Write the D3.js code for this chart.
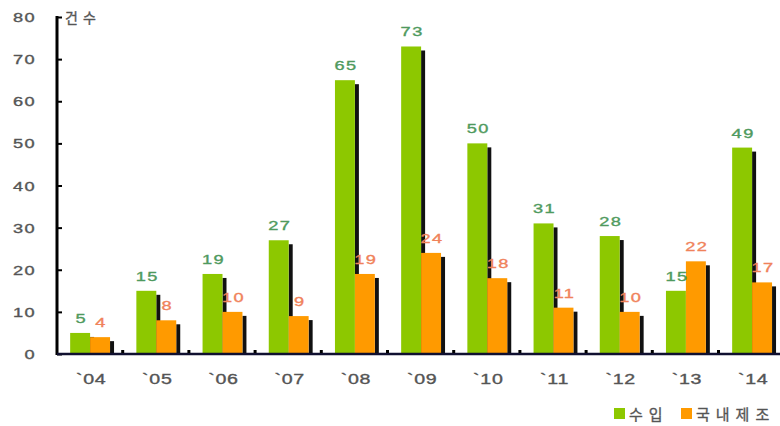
<!DOCTYPE html>
<html><head><meta charset="utf-8">
<script src="https://cdn.jsdelivr.net/npm/d3@7"></script>
<style>
html,body{margin:0;padding:0;background:#fff;}
svg{display:block;}
text{font-family:"Liberation Sans","Noto Sans CJK KR",sans-serif;stroke-width:0.35px;}
</style></head>
<body>
<svg id="c" width="780" height="426"></svg>
<script>
const categories = ["`04","`05","`06","`07","`08","`09","`10","`11","`12","`13","`14"];
const seriesNames = ["수입","국내제조"];
const importVals = [5,15,19,27,65,73,50,31,28,15,49];
const domesticVals = [4,8,10,9,19,24,18,11,10,22,17];
const yTicks = [0,10,20,30,40,50,60,70,80];
const yUnit = "건수";
const colors = ["#8dc800","#ff9a00"];
const labelColors = ["#4f9a5e","#f0825a"];

const svg = d3.select("#c");
const x0 = 57, yBase = 354;
const SX = 1.4;
const x = d3.scaleBand().domain(categories).range([x0, x0 + 11*66.2]).padding(0);
const xs = d3.scaleBand().domain(seriesNames).range([0, x.bandwidth()]).paddingInner(0).paddingOuter(0.66);
const y = d3.scaleLinear().domain([0,80]).range([yBase, 17]);
const series = [importVals, domesticVals];

function stretched(sel, fx, fy){
  sel.attr("x",0).attr("y",0)
     .attr("transform",(d,i)=>`translate(${fx(d,i)},${fy(d,i)}) scale(${SX},1)`);
  return sel;
}

// bars with shadows
categories.forEach((c,i)=>{
  const g = svg.append("g");
  series.forEach((vals,s)=>{
    const bx = x(c)+xs(seriesNames[s]);
    const bw = xs.bandwidth();
    g.append("rect").attr("x", bx+bw).attr("y", y(vals[i])+4)
      .attr("width",4).attr("height", yBase - y(vals[i]) - 4).attr("fill","#111");
    g.append("rect").attr("x", bx).attr("y", y(vals[i]))
      .attr("width",bw).attr("height", yBase - y(vals[i])).attr("fill",colors[s]);
  });
});

// value labels
series.forEach((vals,s)=>{
  const t = svg.append("g").selectAll("text").data(vals).join("text")
    .attr("text-anchor","middle")
    .attr("font-size",13).attr("letter-spacing","1px")
    .attr("fill",labelColors[s]).attr("stroke",labelColors[s])
    .text(d=>d);
  stretched(t,(d,i)=>x(categories[i])+xs(seriesNames[s])+xs.bandwidth()/2 + 1,(d)=>y(d)-10);
});

// y axis
const yAxis = d3.axisLeft(y).tickValues(yTicks).tickSize(-5).tickPadding(21);
const ga = svg.append("g").attr("transform",`translate(${x0},0)`).call(yAxis);
ga.select(".domain").remove();
ga.selectAll(".tick line").attr("stroke","#000").attr("stroke-width",2);
ga.selectAll(".tick text").remove();
const yl = svg.append("g").selectAll("text").data(yTicks).join("text")
  .attr("text-anchor","end").attr("font-size",13).attr("letter-spacing","1px")
  .attr("fill","#555").attr("stroke","#555").text(d=>d);
stretched(yl, ()=>36, d=>y(d)+5);
svg.append("line").attr("x1",x0).attr("x2",x0).attr("y1",y(80)-1).attr("y2",yBase+1)
  .attr("stroke","#000").attr("stroke-width",3);

// x axis line
svg.append("line").attr("x1",x0).attr("x2",780).attr("y1",yBase).attr("y2",yBase)
  .attr("stroke","#101030").attr("stroke-width",2.5);
// boundary tick dots
svg.append("g").selectAll("rect").data(categories).join("rect")
  .attr("x",d=>x(d)+x.bandwidth()-2).attr("y",yBase-4).attr("width",3).attr("height",3).attr("fill","#000");
// category labels
const cl = svg.append("g").selectAll("text").data(categories).join("text")
  .attr("text-anchor","middle").attr("font-size",14).attr("letter-spacing","0.5px")
  .attr("fill","#555").attr("stroke","#555").text(d=>d);
stretched(cl, d=>x(d)+x.bandwidth()/2+1, ()=>384);

// unit label
svg.append("text").attr("x",65).attr("y",23).attr("font-size",14).attr("letter-spacing","5px")
  .attr("fill","#555").attr("stroke","#555").text(yUnit);

// legend
const lx = [614, 681];
seriesNames.forEach((n,s)=>{
  svg.append("rect").attr("x",lx[s]).attr("y",408).attr("width",11).attr("height",11).attr("fill",colors[s]);
  svg.append("text").attr("x",lx[s]+15).attr("y",420).attr("font-size",15).attr("letter-spacing","6px")
    .attr("fill","#555").attr("stroke","#555").text(n);
});
</script>
</body></html>
